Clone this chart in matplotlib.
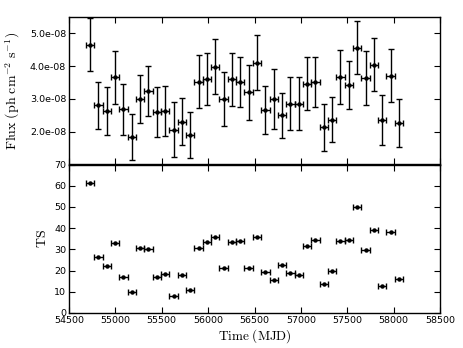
import matplotlib
matplotlib.use("Agg")
import matplotlib.pyplot as plt
from matplotlib.ticker import FuncFormatter

plt.rcParams['mathtext.fontset'] = 'cm'

mjd = [54727, 54817, 54907, 54997, 55087, 55177, 55267, 55357, 55447, 55537,
       55627, 55717, 55807, 55897, 55987, 56077, 56167, 56257, 56347, 56437,
       56527, 56617, 56707, 56797, 56887, 56977, 57067, 57157, 57247, 57337,
       57427, 57517, 57607, 57697, 57787, 57877, 57967, 58057]
mjd_err = [45] * 38

flux_e8 = [4.66, 2.80, 2.63, 3.66, 2.69, 1.85, 3.00, 3.24, 2.60, 2.63,
           2.06, 2.30, 1.91, 3.52, 3.61, 3.98, 2.99, 3.60, 3.51, 3.20,
           4.11, 2.67, 3.00, 2.50, 2.86, 2.86, 3.46, 3.52, 2.13, 2.37,
           3.67, 3.42, 4.56, 3.63, 4.05, 2.35, 3.71, 2.27]
flux_err_e8 = [0.81, 0.71, 0.72, 0.81, 0.78, 0.70, 0.72, 0.76, 0.77, 0.75,
               0.84, 0.72, 0.70, 0.81, 0.80, 0.84, 0.82, 0.81, 0.77, 0.85,
               0.85, 0.73, 0.92, 0.69, 0.82, 0.82, 0.81, 0.77, 0.71, 0.68,
               0.82, 0.74, 0.81, 0.82, 0.80, 0.77, 0.80, 0.73]
ts = [61.3, 26.4, 22.0, 33.0, 17.1, 9.7, 30.5, 30.0, 16.8, 18.5,
      8.0, 17.8, 11.0, 30.8, 33.6, 35.7, 21.2, 33.6, 33.9, 21.1,
      35.7, 19.3, 15.4, 22.6, 19.0, 17.9, 31.7, 34.3, 13.5, 19.6,
      33.8, 34.4, 50.0, 29.9, 39.0, 12.9, 38.2, 15.9]

flux = [v * 1e-8 for v in flux_e8]
flux_err = [v * 1e-8 for v in flux_err_e8]

xticks = [54500, 55000, 55500, 56000, 56500, 57000, 57500, 58000, 58500]
flux_ticks = [2e-8, 3e-8, 4e-8, 5e-8]
ts_ticks = [0, 10, 20, 30, 40, 50, 60, 70]

W, H = 463, 348
fig = plt.figure(figsize=(W / 100, H / 100), dpi=100)
left, right = 69 / W, 440 / W
ax1 = fig.add_axes([left, 1 - 164.5 / H, right - left, 147.5 / H])
ax2 = fig.add_axes([left, 1 - 313 / H, right - left, 148.5 / H], sharex=ax1)

ekw = dict(fmt='o', color='black', ms=2.2, elinewidth=1.0, capsize=2.0,
           capthick=1.0, ecolor='black')
ax1.errorbar(mjd, flux, xerr=mjd_err, yerr=flux_err, **ekw)
ax2.errorbar(mjd, ts, xerr=mjd_err, **ekw)

ax1.set_xlim(54500, 58500)
ax1.set_ylim(1e-8, 5.5e-8)
ax2.set_ylim(0, 70)
ax1.set_xticks(xticks)
ax1.set_yticks(flux_ticks)
ax2.set_yticks(ts_ticks)
ax1.yaxis.set_major_formatter(FuncFormatter(lambda v, p: f"{v:.1e}"))
plt.setp(ax1.get_xticklabels(), visible=False)

for ax in (ax1, ax2):
    ax.tick_params(direction='in', top=True, right=True, length=4,
                   width=0.8, labelsize=6.8, pad=2)
    for s in ax.spines.values():
        s.set_linewidth(1.0)

ax1.set_ylabel(r'$\mathrm{Flux\ (ph\ cm^{-2}\ s^{-1})}$', fontsize=10, labelpad=5.5)
ax2.set_ylabel(r'$\mathrm{TS}$', fontsize=10, labelpad=4)
ax2.set_xlabel(r'$\mathrm{Time\ (MJD)}$', fontsize=9.5, labelpad=2)

fig.savefig('out.png', dpi=100)
